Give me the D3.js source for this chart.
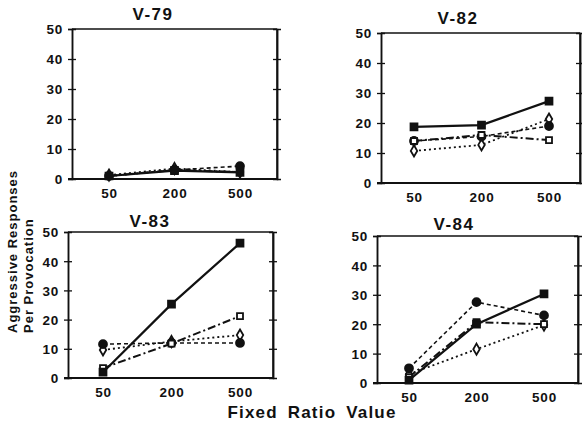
<!DOCTYPE html>
<html><head><meta charset="utf-8">
<script src="https://cdn.jsdelivr.net/npm/d3@7"></script>
<style>
body{margin:0;background:#fff;}
svg text{font-family:"Liberation Sans",Arial,sans-serif;font-weight:bold;fill:#111;}
</style></head>
<body><svg id="c" width="582" height="423"></svg>
<script>
// ---- data ----
const ratios = ["50", "200", "500"];
const panelNames = ["V-79", "V-82", "V-83", "V-84"];
const yTicks = [0, 10, 20, 30, 40, 50];
const filledSquare = [[1, 2.8, 2.2], [18.7, 19.3, 27.3], [2, 25.3, 46.2], [1, 20, 30.3]];
const openSquare   = [[1, 3, 2.3], [14, 16, 14.3], [3.4, 11.8, 21.2], [2, 20.7, 20]];
const filledCircle = [[1, 3, 4.3], [14, 15.5, 19], [11.6, 12, 12], [5, 27.5, 23]];
const openDiamond  = [[1.3, 3.5, 2.3], [10.7, 12.7, 21.3], [9.6, 12.5, 14.7], [3, 11.5, 19.7]];

// ---- layout ----
const layout = [
  {left: 72, right: 277, top: 29, bottom: 179, x0: 109, x1: 240, tx: 153, ty: 20},
  {left: 381, right: 580, top: 33, bottom: 183, x0: 414, x1: 549, tx: 458, ty: 24},
  {left: 68, right: 273, top: 232, bottom: 378, x0: 103, x1: 240, tx: 150, ty: 227},
  {left: 377, right: 578, top: 236, bottom: 383, x0: 409, x1: 544, tx: 454, ty: 230}
];
const seriesDefs = [
  {data: filledSquare, shape: d3.symbolSquare, fill: "#111", dash: null, w: 2.2, size: 48},
  {data: openSquare, shape: d3.symbolSquare, fill: "#fff", dash: "8,3,2,3", w: 2, size: 36},
  {data: filledCircle, shape: d3.symbolCircle, fill: "#111", dash: "4,3", w: 1.6, size: 50},
  {data: openDiamond, shape: d3.symbolDiamond, fill: "#fff", dash: "2,3", w: 1.8, size: 36}
];

const svg = d3.select("#c");

panelNames.forEach((name, i) => {
  const L = layout[i];
  const x = d3.scalePoint().domain(ratios).range([L.x0, L.x1]);
  const y = d3.scaleLinear().domain([0, 50]).range([L.bottom, L.top]);
  const g = svg.append("g");

  // frame
  g.append("line").attr("x1", L.left - 4).attr("x2", L.right).attr("y1", y(0)).attr("y2", y(0))
    .attr("stroke", "#111").attr("stroke-width", 2);
  g.append("line").attr("x1", L.left).attr("x2", L.right).attr("y1", y(50)).attr("y2", y(50))
    .attr("stroke", "#111").attr("stroke-width", 1.5);
  g.append("line").attr("x1", L.right).attr("x2", L.right).attr("y1", y(0)).attr("y2", y(50))
    .attr("stroke", "#111").attr("stroke-width", 1.5);

  // left axis with crossing ticks
  const la = g.append("g").attr("transform", `translate(${L.left},0)`)
    .call(d3.axisLeft(y).tickValues(yTicks).tickSize(4).tickPadding(5));
  la.selectAll("text").style("font-size", "13.5px").style("letter-spacing", "0.8px").attr("dy", "0.36em");
  g.append("g").attr("transform", `translate(${L.left},0)`)
    .call(d3.axisRight(y).tickValues(yTicks.slice(1, 5)).tickSize(4).tickFormat(""));
  // right border ticks
  g.append("g").attr("transform", `translate(${L.right},0)`)
    .call(d3.axisRight(y).tickValues(yTicks.slice(1, 5)).tickSize(4).tickFormat(""));
  g.append("g").attr("transform", `translate(${L.right},0)`)
    .call(d3.axisLeft(y).tickValues(yTicks.slice(1, 5)).tickSize(4).tickFormat(""));
  g.selectAll(".domain").attr("stroke", "#111").attr("stroke-width", 1.5);
  g.selectAll(".tick line").attr("stroke", "#111").attr("stroke-width", 1.3);

  // bottom axis labels
  const ba = g.append("g").attr("transform", `translate(0,${L.bottom})`)
    .call(d3.axisBottom(x).tickSize(0).tickPadding(9));
  ba.select(".domain").remove();
  ba.selectAll("text").style("font-size", "13.5px").style("letter-spacing", "0.8px");

  // title
  g.append("text").attr("x", L.tx).attr("y", L.ty).attr("text-anchor", "middle")
    .style("font-size", "17px").style("letter-spacing", "1.5px").text(name);

  // series (draw back to front)
  seriesDefs.slice().reverse().forEach(s => {
    const vals = s.data[i];
    const line = d3.line().x((d, j) => x(ratios[j])).y(d => y(d));
    g.append("path").attr("d", line(vals)).attr("fill", "none").attr("stroke", "#111")
      .attr("stroke-width", s.w).attr("stroke-dasharray", s.dash);
  });
  seriesDefs.slice().reverse().forEach(s => {
    const vals = s.data[i];
    g.selectAll(null).data(vals).enter().append("path")
      .attr("d", d3.symbol().type(s.shape).size(s.size))
      .attr("transform", (d, j) => `translate(${x(ratios[j])},${y(d)})`)
      .attr("fill", s.fill).attr("stroke", "#111").attr("stroke-width", 1.8);
  });
});

// axis titles
svg.append("text").attr("transform", "translate(17,333) rotate(-90)")
  .style("font-size", "13px").style("letter-spacing", "1px").text("Aggressive Responses");
svg.append("text").attr("transform", "translate(33,333) rotate(-90)")
  .style("font-size", "13px").style("letter-spacing", "1px").text("Per Provocation");
svg.append("text").attr("x", 312).attr("y", 418).attr("text-anchor", "middle")
  .style("font-size", "17px").style("letter-spacing", "1.2px").style("word-spacing", "4px")
  .text("Fixed Ratio Value");
</script></body></html>
